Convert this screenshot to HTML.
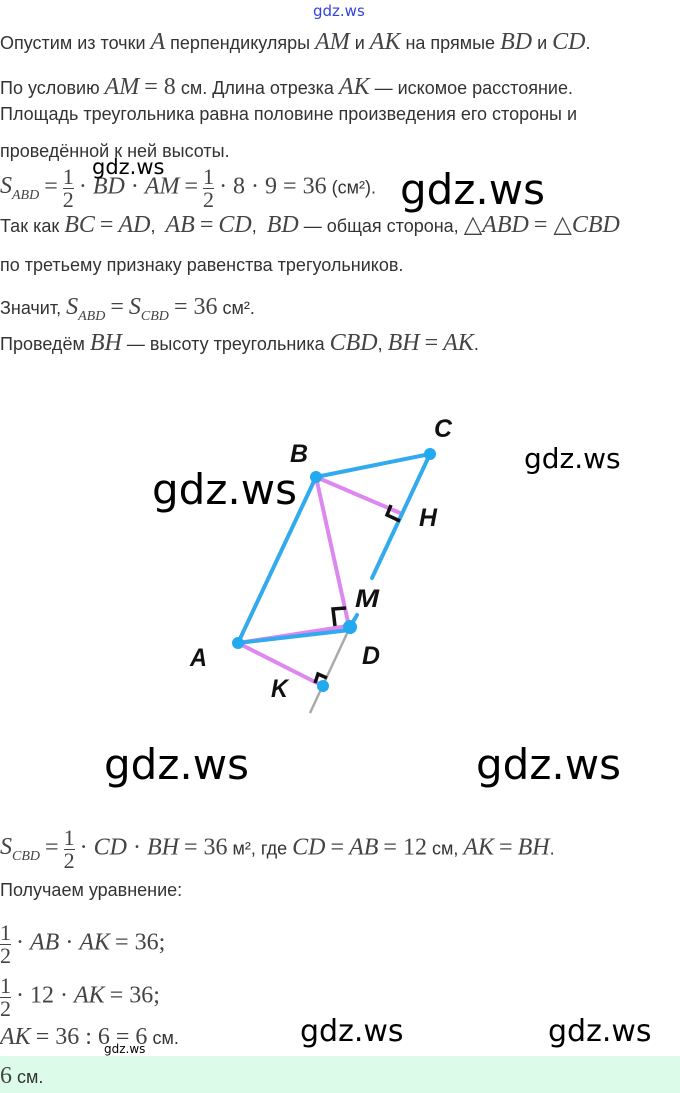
<!DOCTYPE html>
<html><head><meta charset="utf-8"><style>
body{margin:0;width:680px;height:1093px;background:#fff;position:relative;overflow:hidden;font-family:"Liberation Sans",sans-serif;color:#333;font-size:18px}
.t{position:absolute;left:0;white-space:nowrap;line-height:22px}
.m{font-family:"Liberation Serif",serif;font-style:italic;font-size:24px;color:#444}
.n{font-family:"Liberation Serif",serif;font-size:24px;color:#444}
.w{position:absolute;font-family:"DejaVu Sans",sans-serif;color:#000;white-space:nowrap}
.fr{display:inline-block;vertical-align:middle;text-align:center;font-family:"Liberation Serif",serif;font-size:22px;line-height:22px;color:#444}
.fr span{display:block}
.fr span:first-child{border-bottom:1px solid #444}
sub{font-size:14px}
</style></head><body>
<div class="w" style="left:313px;top:2px;font-size:15px;color:#3344dd">gdz.ws</div>

<div class="t" style="top:31px">Опустим из точки <span class="m">A</span> перпендикуляры <span class="m">AM</span> и <span class="m">AK</span> на прямые <span class="m">BD</span> и <span class="m">CD</span>.</div>
<div class="t" style="top:76px">По условию <span class="m">AM</span> <span class="n">= 8</span> см. Длина отрезка <span class="m">AK</span> — искомое расстояние.</div>
<div class="t" style="top:103px">Площадь треугольника равна половине произведения его стороны и</div>
<div class="t" style="top:140px">проведённой к ней высоты.</div>
<div class="t" style="top:166px"><span class="m">S<sub>ABD</sub></span> <span class="n">=</span> <span class="fr"><span>1</span><span>2</span></span> <span class="n">· </span><span class="m">BD</span><span class="n"> · </span><span class="m">AM</span> <span class="n">=</span> <span class="fr"><span>1</span><span>2</span></span> <span class="n">· 8 · 9 = 36</span> (см²).</div>
<div class="w" style="left:92px;top:155px;font-size:21px">gdz.ws</div>
<div class="w" style="left:400px;top:165px;font-size:42px">gdz.ws</div>
<div class="t" style="top:214px">Так как <span class="m">BC</span> <span class="n">=</span> <span class="m">AD</span>,&nbsp; <span class="m">AB</span> <span class="n">=</span> <span class="m">CD</span>,&nbsp; <span class="m">BD</span> — общая сторона, <span class="n">△</span><span class="m">ABD</span> <span class="n">= △</span><span class="m">CBD</span></div>
<div class="t" style="top:254px">по третьему признаку равенства трегуольников.</div>
<div class="t" style="top:296px">Значит, <span class="m">S<sub>ABD</sub></span> <span class="n">=</span> <span class="m">S<sub>CBD</sub></span> <span class="n">= 36</span> см².</div>
<div class="t" style="top:332px">Проведём <span class="m">BH</span> — высоту треугольника <span class="m">CBD</span>, <span class="m">BH</span> <span class="n">=</span> <span class="m">AK</span>.</div>

<svg style="position:absolute;left:0;top:0" width="680" height="1093">
<line x1="350" y1="627" x2="310" y2="713" stroke="#aaa" stroke-width="2.5"/>
<g stroke="#dd88ee" stroke-width="4" stroke-linecap="round">
<line x1="316" y1="477" x2="400" y2="513"/>
<line x1="316" y1="477" x2="348" y2="622"/>
<line x1="238" y1="643" x2="348" y2="626"/>
<line x1="238" y1="643" x2="323" y2="686"/>
</g>
<g stroke="#33aaee" stroke-width="4" stroke-linecap="round">
<line x1="316" y1="477" x2="430" y2="454"/>
<line x1="316" y1="477" x2="238" y2="643"/>
<line x1="430" y1="454" x2="372" y2="578"/>
<line x1="238" y1="643" x2="350" y2="630"/>
<line x1="350" y1="627" x2="357" y2="615"/>
</g>
<g fill="#22aaee"><circle cx="316" cy="477" r="6"/><circle cx="430" cy="454" r="6"/><circle cx="238" cy="643" r="6"/><circle cx="350" cy="627" r="7"/><circle cx="323" cy="686" r="6"/></g>
<g stroke="#111" stroke-width="3.5" fill="none">
<polyline points="391,505 387,515 400,521"/>
<polyline points="335,626 333,609 346,608"/>
<polyline points="315,683 318,674 327,678"/>
</g>
<g font-family="Liberation Sans,sans-serif" font-style="italic" font-weight="bold" font-size="25" fill="#111">
<text x="290" y="462" textLength="18" lengthAdjust="spacingAndGlyphs">B</text><text x="434" y="437" textLength="18" lengthAdjust="spacingAndGlyphs">C</text><text x="419" y="526" textLength="18" lengthAdjust="spacingAndGlyphs">H</text>
<text x="355" y="607" textLength="24" lengthAdjust="spacingAndGlyphs">M</text><text x="362" y="664" textLength="18" lengthAdjust="spacingAndGlyphs">D</text><text x="190" y="666" textLength="17" lengthAdjust="spacingAndGlyphs">A</text><text x="271" y="697" textLength="17" lengthAdjust="spacingAndGlyphs">K</text>
</g>
</svg>
<div class="w" style="left:152px;top:465px;font-size:42px">gdz.ws</div>
<div class="w" style="left:524px;top:442px;font-size:28px">gdz.ws</div>
<div class="w" style="left:104px;top:740px;font-size:42px">gdz.ws</div>
<div class="w" style="left:476px;top:740px;font-size:42px">gdz.ws</div>

<div class="t" style="top:827px"><span class="m">S<sub>CBD</sub></span> <span class="n">=</span> <span class="fr"><span>1</span><span>2</span></span> <span class="n">· </span><span class="m">CD</span><span class="n"> · </span><span class="m">BH</span> <span class="n">= 36</span> м², где <span class="m">CD</span> <span class="n">=</span> <span class="m">AB</span> <span class="n">= 12</span> см, <span class="m">AK</span> <span class="n">=</span> <span class="m">BH</span>.</div>
<div class="t" style="top:879px">Получаем уравнение:</div>
<div class="t" style="top:922px"><span class="fr"><span>1</span><span>2</span></span> <span class="n">· </span><span class="m">AB</span><span class="n"> · </span><span class="m">AK</span> <span class="n">= 36;</span></div>
<div class="t" style="top:975px"><span class="fr"><span>1</span><span>2</span></span> <span class="n">· 12 · </span><span class="m">AK</span> <span class="n">= 36;</span></div>
<div class="t" style="top:1026px"><span class="m">AK</span> <span class="n">= 36 : 6 = 6</span> см.</div>
<div class="w" style="left:104px;top:1042px;font-size:12px">gdz.ws</div>
<div class="w" style="left:300px;top:1014px;font-size:30px">gdz.ws</div>
<div class="w" style="left:548px;top:1014px;font-size:30px">gdz.ws</div>
<div style="position:absolute;left:0;top:1056px;width:680px;height:37px;background:#dcfbe8"></div>
<div class="t" style="top:1065px"><span class="n" style="font-style:normal">6</span> см.</div>
</body></html>
